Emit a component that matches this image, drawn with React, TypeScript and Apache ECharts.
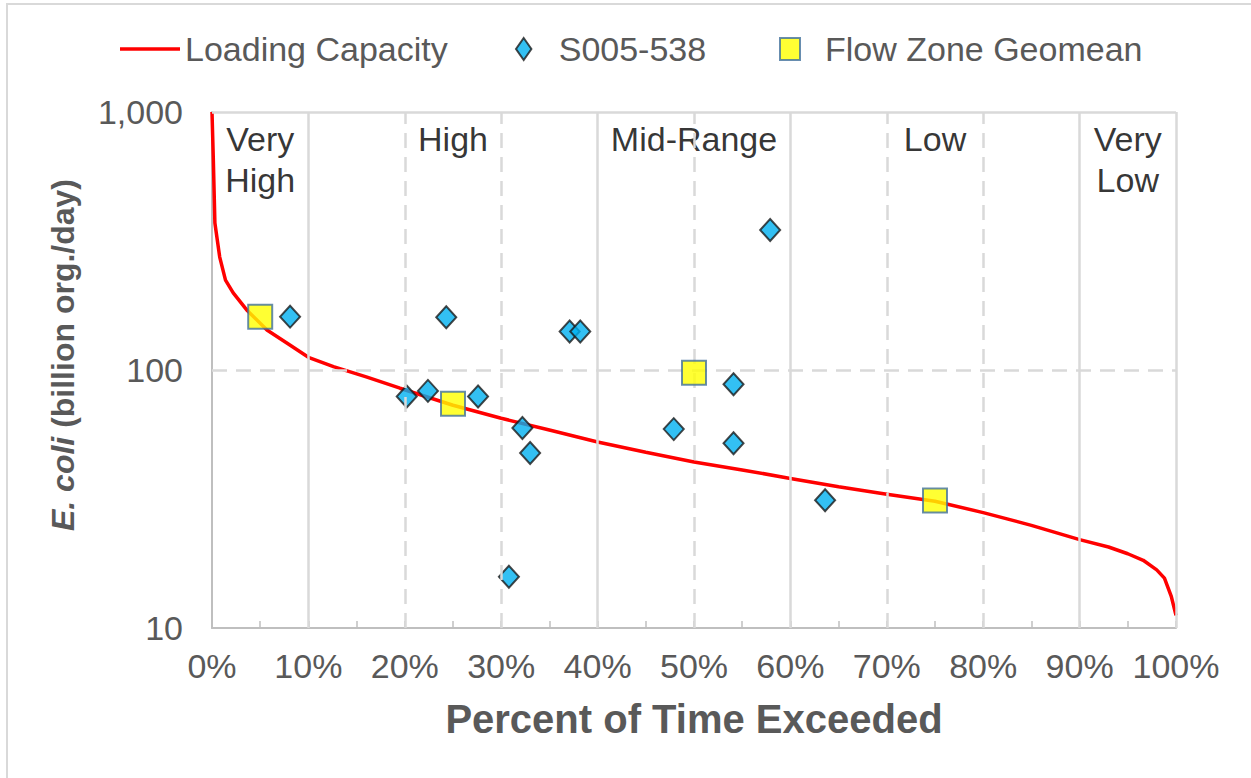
import React, { useEffect, useRef } from 'react';
import * as echarts from 'echarts';

// Load duration curve (percent of time exceeded vs loading capacity)
const flowPct = [0, 0.13, 0.3, 0.8, 1.4, 2.2, 3.6, 5.7, 7.8, 10, 12.6, 16, 19.5, 25, 30, 35, 40, 45, 50, 55, 60, 65, 70, 75, 80, 85, 90, 93, 95, 96.6, 98, 98.8, 99.5, 100];
const loadingCapacity = [1000, 670, 371, 274, 223, 199, 171, 143, 127, 112, 103, 94, 85, 73, 65, 58.5, 52.6, 48, 44, 41, 38, 35.3, 33, 31, 28, 25, 22, 20.6, 19.4, 18.3, 16.8, 15.6, 13.3, 11.2];

// Monitoring samples S005-538
const sampleTime = [8.1, 20.2, 22.4, 24.3, 27.6, 30.8, 32.2, 33.0, 37.1, 38.2, 47.9, 54.1, 54.1, 57.9, 63.6];
const sampleLoad = [161, 79, 83, 160, 79, 15.8, 59.6, 47.7, 141, 141, 59, 88, 52, 349, 31.3];

// Flow zone geomeans
const zoneTime = [5, 25, 50, 75];
const zoneGeomean = [161, 74, 97.6, 31.2];

// Flow zones
const zoneNames = ['Very\nHigh', 'High', 'Mid-Range', 'Low', 'Very\nLow'];
const zoneLabelX = [5, 25, 50, 75, 95];
const zoneBounds = [10, 40, 60, 90, 100];
const dashedGridX = [20, 30, 50, 70, 80];
const yMin = 10;
const yMax = 1000;

const FONT = '"Liberation Sans", Arial, sans-serif';

export default function App() {
  const ref = useRef<HTMLDivElement>(null);

  useEffect(() => {
    if (!ref.current) return;
    const chart = echarts.init(ref.current, null, { renderer: 'svg' });
    const dash = [15, 9];
    const legendBase = {
      top: 27,
      itemWidth: 60,
      itemHeight: 22,
      textStyle: { fontSize: 34, color: '#595959', fontFamily: FONT },
    };
    const option: any = {
      animation: false,
      textStyle: { fontFamily: FONT },
      grid: { left: 212, top: 112, width: 964, height: 516 },
      graphic: [
        {
          type: 'rect',
          shape: { x: 7, y: 4, width: 1400, height: 1000 },
          style: { fill: 'none', stroke: '#d9d9d9', lineWidth: 2 },
          silent: true,
          z: -10,
        },
      ],
      legend: [
        {
          ...legendBase,
          left: 115,
          data: [{ name: 'Loading Capacity', icon: 'path://M0,0 L60,0 L60,3.5 L0,3.5 Z' }],
        },
        {
          ...legendBase,
          left: 510,
          data: [{ name: 'S005-538', icon: 'path://M0,-10 L7,0 L0,10 L-7,0 Z' }],
        },
        {
          ...legendBase,
          left: 774,
          data: [{ name: 'Flow Zone Geomean', icon: 'path://M-10,-11 L10,-11 L10,11 L-10,11 Z' }],
        },
      ],
      xAxis: {
        type: 'value',
        min: 0,
        max: 100,
        interval: 10,
        axisLabel: {
          formatter: '{value}%',
          fontSize: 34,
          color: '#595959',
          margin: 21,
          fontFamily: FONT,
        },
        axisLine: { show: true, lineStyle: { color: '#bfbfbf', width: 2 } },
        axisTick: { show: true, inside: true, length: 7, lineStyle: { color: '#bfbfbf', width: 1.5 } },
        minorTick: { show: true, splitNumber: 2, length: 7, lineStyle: { color: '#bfbfbf', width: 1.5 } },
        splitLine: { show: false },
        name: 'Percent of Time Exceeded',
        nameLocation: 'middle',
        nameGap: 71,
        nameTextStyle: { fontSize: 40, fontWeight: 'bold', color: '#595959', fontFamily: FONT },
      },
      yAxis: {
        type: 'log',
        logBase: 10,
        min: yMin,
        max: yMax,
        axisLabel: {
          formatter: (v: number) => Number(v).toLocaleString('en-US'),
          fontSize: 34,
          color: '#595959',
          margin: 29,
          fontFamily: FONT,
        },
        axisLine: { show: true, lineStyle: { color: '#bfbfbf', width: 2 } },
        axisTick: { show: false },
        splitLine: { show: false },
        name: '{i|E. coli} (billion org./day)',
        nameLocation: 'middle',
        nameGap: 133,
        nameTextStyle: {
          fontSize: 32,
          fontWeight: 'bold',
          color: '#595959',
          fontFamily: FONT,
          padding: [0, 0, 0, 30],
          rich: {
            i: { fontSize: 32, fontWeight: 'bold', fontStyle: 'italic', color: '#595959', fontFamily: FONT },
          },
        },
      },
      series: [
        {
          name: 'zones',
          type: 'scatter',
          silent: true,
          symbolSize: 0,
          data: zoneLabelX.map((x) => [x, yMax]),
          label: {
            show: true,
            position: 'bottom',
            distance: 6,
            formatter: (p: any) => zoneNames[p.dataIndex],
            fontSize: 34,
            lineHeight: 41,
            color: '#000',
            fontFamily: FONT,
            align: 'center',
          },
          markLine: {
            silent: true,
            symbol: ['none', 'none'],
            label: { show: false },
            lineStyle: { color: '#d9d9d9', width: 2 },
            data: [
              ...zoneBounds.map((v) => ({ xAxis: v, lineStyle: { type: 'solid', color: '#d9d9d9', width: 2.5 } })),
              ...dashedGridX.map((v) => ({ xAxis: v, lineStyle: { type: dash, color: '#d9d9d9', width: 2.5 } })),
              { yAxis: 100, lineStyle: { type: dash, color: '#d9d9d9', width: 2.5 } },
              { yAxis: yMax, lineStyle: { type: 'solid', color: '#d9d9d9', width: 2.5 } },
            ],
          },
        },
        {
          name: 'Loading Capacity',
          type: 'line',
          symbol: 'none',
          smooth: false,
          lineStyle: { color: '#ff0000', width: 3.5 },
          itemStyle: { color: '#ff0000' },
          data: flowPct.map((x, i) => [x, loadingCapacity[i]]),
          z: 3,
        },
        {
          name: 'S005-538',
          type: 'scatter',
          symbol: 'diamond',
          symbolSize: [20, 22],
          itemStyle: { color: '#00b0f0', borderColor: '#1a1a1a', borderWidth: 2 },
          data: sampleTime.map((x, i) => [x, sampleLoad[i]]),
          z: 4,
        },
        {
          name: 'Flow Zone Geomean',
          type: 'scatter',
          symbol: 'rect',
          symbolSize: 24,
          itemStyle: { color: '#ffff00', borderColor: '#41719c', borderWidth: 2 },
          data: zoneTime.map((x, i) => [x, zoneGeomean[i]]),
          z: 5,
        },
      ],
    };
    chart.setOption(option);
    return () => chart.dispose();
  }, []);

  return (
    <div
      ref={ref}
      style={{ position: 'absolute', left: 0, top: 0, width: 1251, height: 778, background: '#fff' }}
    />
  );
}
